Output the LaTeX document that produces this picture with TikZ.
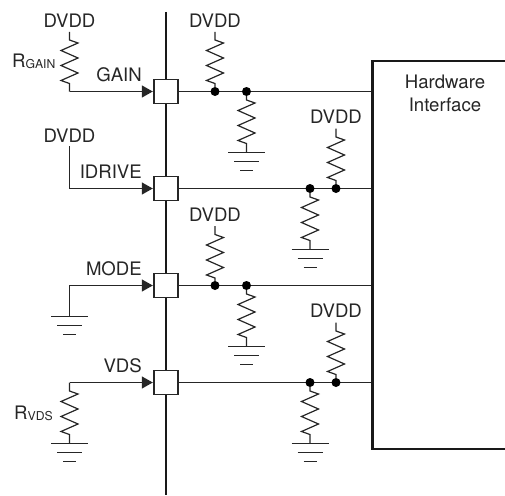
\documentclass[tikz,border=0pt]{standalone}
\usepackage{fontspec}
\setmainfont{TeX Gyre Heros}
\usetikzlibrary{arrows.meta}
\tikzset{
  wire/.style={line width=1.2pt,black!85},
  bus/.style={line width=2.2pt,black!90},
  pin/.style={draw=black!85,line width=1.2pt,fill=white,minimum size=24pt,inner sep=0pt},
  inarrow/.style={wire,-{Triangle[length=11pt,width=12pt]},shorten >=0.6pt},
  dot/.style={circle,fill=black,minimum size=9pt,inner sep=0pt},
  lab/.style={font=\fontsize{18.6pt}{21pt}\selectfont,inner sep=0pt,text=black!85},
}
\newcommand{\zigres}[4]{%
  \coordinate (#3a) at (#1,#2);
  \draw[wire,line join=miter] (#3) -- (#3a)
    -- ++(8.5,3) -- ++(-17,7.5) -- ++(17,7.5) -- ++(-17,7.5) -- ++(17,7.5) -- ++(-17,7.5) -- ++(8.5,3)
    -- (#4);}
\newcommand{\earth}[2]{%
  \coordinate (#2m) at (#1);
  \draw[wire] ([xshift=-18.5pt]#2m) -- ([xshift=18.5pt]#2m);
  \draw[wire] ([xshift=-12.5pt,yshift=-9pt]#2m) -- ([xshift=12.5pt,yshift=-9pt]#2m);
  \draw[wire] ([xshift=-6.5pt,yshift=-18pt]#2m) -- ([xshift=6.5pt,yshift=-18pt]#2m);}
\newcommand{\rsub}[1]{R\fontsize{12.2pt}{14pt}\selectfont\raisebox{-1.8pt}{#1}}
\begin{document}
\begin{tikzpicture}[x=1pt,y=-1pt]
\useasboundingbox (0,0) rectangle (505,495);
% bus
\coordinate (bt) at (166,12);
\coordinate (bb) at (166,495);
\draw[bus] (bt) -- (bb);
% hardware block
\coordinate (hw1) at (506,61);
\coordinate (hw2) at (372.5,61);
\coordinate (hw3) at (372.5,449);
\coordinate (hw4) at (506,449);
\node[lab,align=center] (hwlabel) at (445,93.5) {Hardware\\[1.6pt]Interface};
% rails ends
\coordinate (e1) at (372.5,91.5);
\coordinate (e2) at (372.5,188.5);
\coordinate (e3) at (372.5,285.5);
\coordinate (e4) at (372.5,382.5);
% pins
\node[pin] (p1) at (166,91.5) {};
\node[pin] (p2) at (166,188.5) {};
\node[pin] (p3) at (166,285.5) {};
\node[pin] (p4) at (166,382.5) {};
\draw[wire] (p1.east) -- (e1);
\draw[wire] (p2.east) -- (e2);
\draw[wire] (p3.east) -- (e3);
\draw[wire] (p4.east) -- (e4);
\draw[bus] (hw1) -- (hw2) -- (hw3) -- (hw4);
% dots
\node[dot] (d1u) at (215,91.5) {};
\node[dot] (d1d) at (246.5,91.5) {};
\node[dot] (d2d) at (310,188.5) {};
\node[dot] (d2u) at (336,188.5) {};
\node[dot] (d3u) at (215,285.5) {};
\node[dot] (d3d) at (246.5,285.5) {};
\node[dot] (d4d) at (310,382.5) {};
\node[dot] (d4u) at (336,382.5) {};
% DVDD labels
\node[lab] (v0) at (69.5,20.5) {DVDD};
\node[lab] (v1) at (215,20.5) {DVDD};
\node[lab] (v2) at (336,117) {DVDD};
\node[lab] (v3) at (215,214.5) {DVDD};
\node[lab] (v4) at (336,311) {DVDD};
\node[lab] (v5) at (69.5,135.5) {DVDD};
% pull-ups
\coordinate (t1) at (215,32); \zigres{215}{40}{t1}{d1u}
\coordinate (t2) at (336,128.5); \zigres{336}{137}{t2}{d2u}
\coordinate (t3) at (215,226); \zigres{215}{234.5}{t3}{d3u}
\coordinate (t4) at (336,322.5); \zigres{336}{331}{t4}{d4u}
% pull-downs
\coordinate (g1) at (246.5,152.5); \zigres{246.5}{100}{d1d}{g1} \earth{g1}{g1e}
\coordinate (g2) at (310,249.5); \zigres{310}{197}{d2d}{g2} \earth{g2}{g2e}
\coordinate (g3) at (246.5,346.5); \zigres{246.5}{294}{d3d}{g3} \earth{g3}{g3e}
\coordinate (g4) at (310,443.5); \zigres{310}{391}{d4d}{g4} \earth{g4}{g4e}
% GAIN input
\coordinate (c1t) at (69.5,32);
\coordinate (c1) at (69.5,91.5);
\zigres{69.5}{40}{c1t}{c1}
\draw[inarrow] (c1) -- (p1.west);
\node[lab,anchor=base east] (nl1) at (142,81) {GAIN};
\node[lab,anchor=base west] (r1) at (12,67) {\rsub{GAIN}};
% IDRIVE input
\coordinate (c2t) at (69.5,146);
\coordinate (c2) at (69.5,188.5);
\draw[inarrow] (c2t) -- (c2) -- (p2.west);
\node[lab,anchor=base east] (nl2) at (142,178) {IDRIVE};
% MODE input
\coordinate (c3g) at (69.5,316.5);
\coordinate (c3) at (69.5,285.5);
\draw[inarrow] (c3g) -- (c3) -- (p3.west);
\earth{c3g}{g5e}
\node[lab,anchor=base east] (nl3) at (142,275) {MODE};
% VDS input
\coordinate (c4) at (69.5,382.5);
\coordinate (c4g) at (69.5,443.5);
\zigres{69.5}{391}{c4}{c4g}
\draw[inarrow] (c4) -- (p4.west);
\earth{c4g}{g6e}
\node[lab,anchor=base east] (nl4) at (142,372) {VDS};
\node[lab,anchor=base west] (r4) at (14,419) {\rsub{VDS}};
\end{tikzpicture}
\end{document}
